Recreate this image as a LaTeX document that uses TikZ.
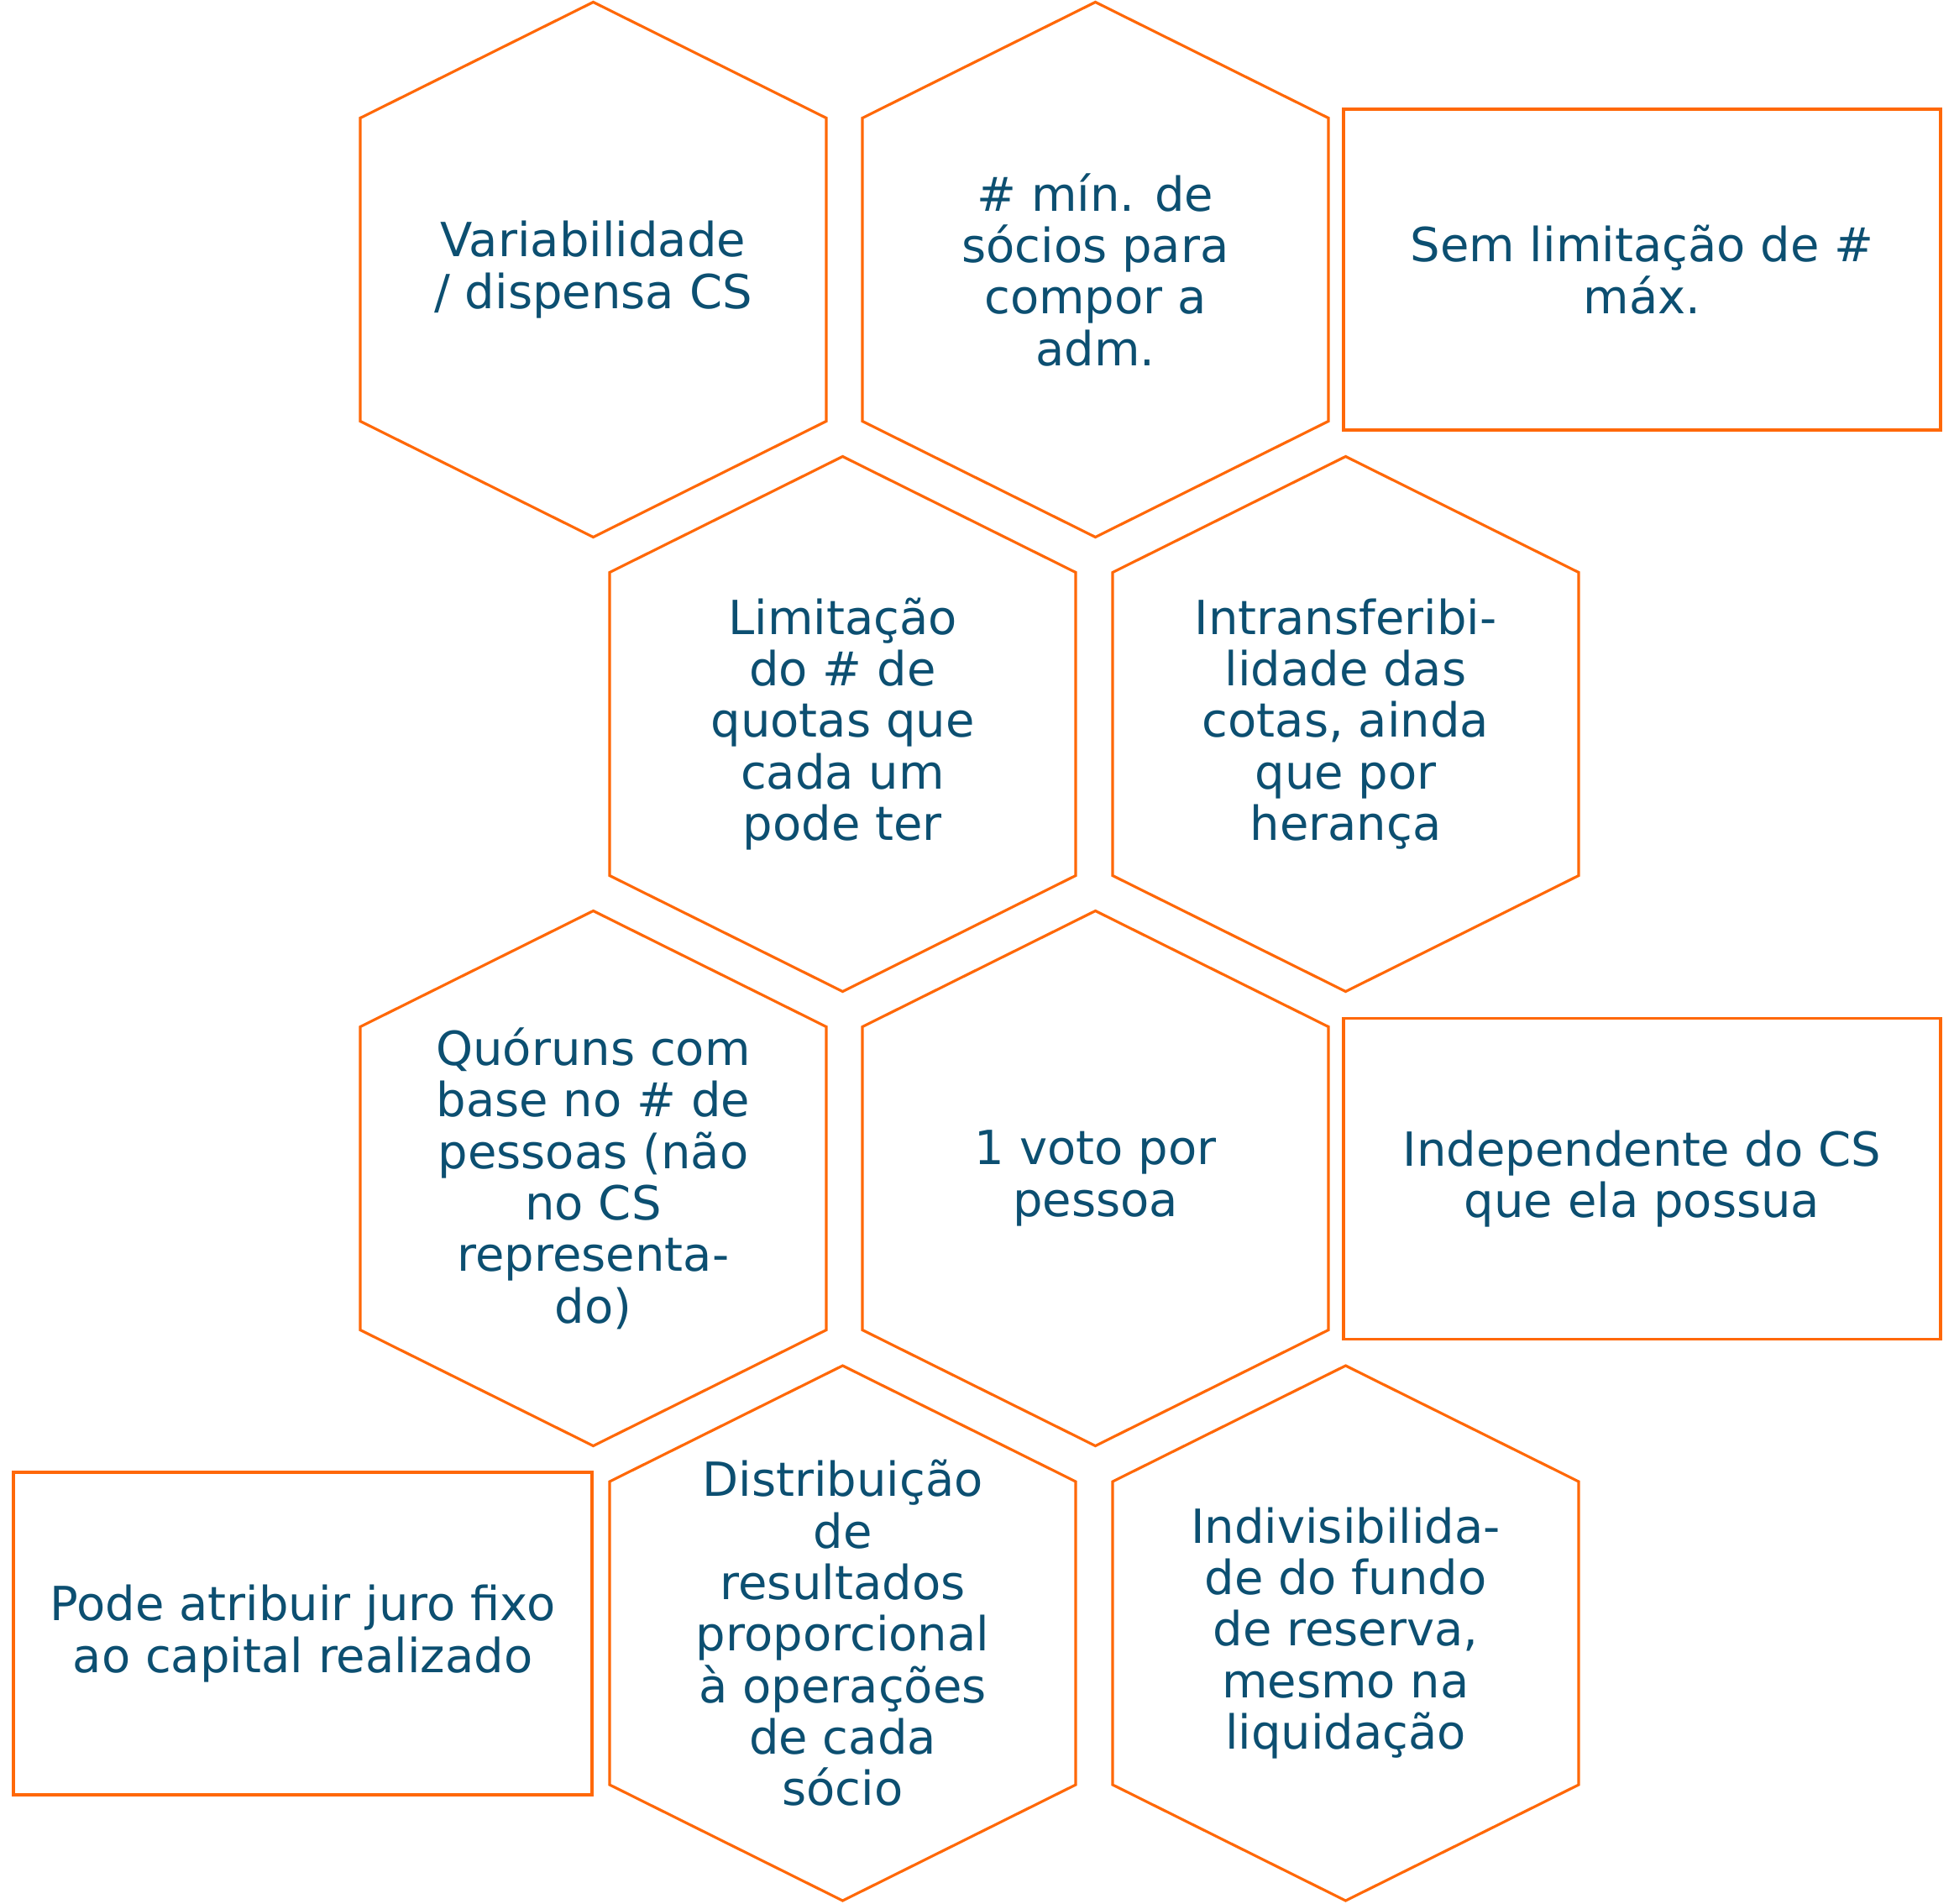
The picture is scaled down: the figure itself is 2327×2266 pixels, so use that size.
\documentclass[tikz,border=0pt]{standalone}
\usepackage{fontspec}
\setmainfont{DejaVu Sans}
\definecolor{hexorange}{RGB}{255,104,8}
\definecolor{txtblue}{RGB}{12,79,113}
\tikzset{
  hexline/.style={draw=hexorange, line width=0.95pt, line join=miter},
  celltext/.style={text=txtblue, align=center, inner sep=0pt,
    font=\fontsize{16.8}{18.4}\selectfont},
  boxcell/.style={draw=hexorange, line width=0.95pt, text=txtblue, align=center,
    inner sep=0pt, font=\fontsize{16.8}{18.4}\selectfont}
}
\newcommand\hexcell[4]{%
  \draw[hexline] (#2,#3) ++(0,-318.5) -- ++(277.5,138) -- ++(0,361) -- ++(-277.5,138)
     -- ++(-277.5,-138) -- ++(0,-361) -- cycle;
  \node[celltext] (#1) at (#2,#3) {#4};}
\begin{document}
\begin{tikzpicture}[x=0.3pt,y=-0.3pt]
\useasboundingbox (0,0) rectangle (2327,2266);
% row 1
\hexcell{var}{706.5}{321}{Variabilidade\\/ dispensa CS}
\hexcell{minsoc}{1304.5}{321}{\# mín. de\\sócios para\\compor a\\adm.}
\node[boxcell, minimum width=213.3pt, minimum height=114.6pt] (semlim) at (1955.5,321) {Sem limitação de \#\\máx.};
% row 2
\hexcell{limq}{1003.5}{862}{Limitação\\do \# de\\quotas que\\cada um\\pode ter}
\hexcell{intr}{1602.5}{862}{Intransferibi-\\lidade das\\cotas, ainda\\que por\\herança}
% row 3
\hexcell{quor}{706.5}{1403}{Quóruns com\\base no \# de\\pessoas (não\\no CS\\representa-\\do)}
\hexcell{voto}{1304.5}{1403}{1 voto por\\pessoa}
\node[boxcell, minimum width=213.3pt, minimum height=114.8pt] (indep) at (1955.5,1403.5) {Independente do CS\\que ela possua};
% row 4
\node[boxcell, minimum width=206.7pt, minimum height=115.2pt] (juro) at (360.5,1945) {Pode atribuir juro fixo\\ao capital realizado};
\hexcell{distr}{1003.5}{1944.5}{Distribuição\\de\\resultados\\proporcional\\à operações\\de cada\\sócio}
\hexcell{indiv}{1602.5}{1944.5}{Indivisibilida-\\de do fundo\\de reserva,\\mesmo na\\liquidação}
\end{tikzpicture}
\end{document}
